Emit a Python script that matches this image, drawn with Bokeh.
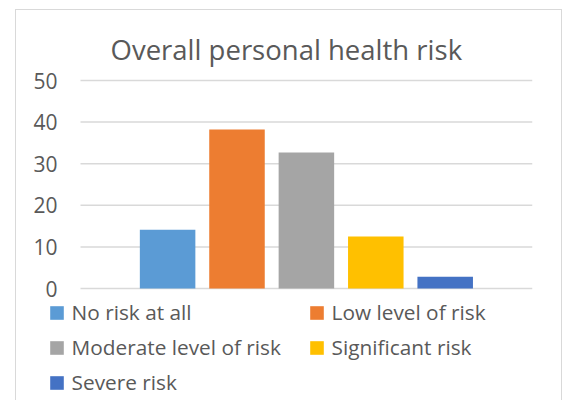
from bokeh.plotting import figure
from bokeh.models import Range1d, Legend, LegendItem
from bokeh.embed import file_html
from bokeh.resources import INLINE

# ---- data ----
categories = ["No risk at all", "Low level of risk", "Moderate level of risk",
              "Significant risk", "Severe risk"]
values = [14.1, 38.2, 32.7, 12.5, 2.8]
colors = ["#5B9BD5", "#ED7D31", "#A5A5A5", "#FFC000", "#4472C4"]
title_text = "Overall personal health risk"
y_ticks = [0, 10, 20, 30, 40, 50]

FONT = "Open Sans"
TEXT = "#595959"
BORDER = "1px solid #d9d9d9"

# category slots on a numeric axis (one slot per category)
positions = list(range(len(categories)))
X_START, X_END = -1.7305, 5.258      # view window (legend area sits left of the bars)
GRID_X0 = -1.255                      # where the horizontal gridlines begin
Y_START, Y_END = -26.923, 50.481      # room below 0 for the legend

p = figure(
    frame_width=485, frame_height=322,
    x_range=Range1d(X_START, X_END),
    y_range=Range1d(Y_START, Y_END),
    x_axis_location=None,
    output_backend="svg", toolbar_location=None,
    min_border_left=31, min_border_right=29, min_border_top=68, min_border_bottom=0,
)
p.margin = (9, 0, 0, 15)
p.styles = {"border-top": BORDER, "border-left": BORDER, "border-right": BORDER}
p.outline_line_color = None
p.xgrid.visible = False
p.ygrid.visible = False

# horizontal gridlines at the y ticks
p.segment(x0=[GRID_X0] * len(y_ticks), x1=[X_END] * len(y_ticks),
          y0=y_ticks, y1=y_ticks, line_color="#D9D9D9", line_width=1.5)

items = []
for pos, cat, val, col in zip(positions, categories, values, colors):
    r = p.vbar(x=[pos], top=[val], width=0.8, fill_color=col, line_color=None)
    items.append(LegendItem(label=cat, renderers=[r]))

# title
p.title.text = title_text
p.title.text_font = FONT
p.title.text_font_size = "27.5px"
p.title.text_font_style = "normal"
p.title.text_color = TEXT
p.title.align = "left"
p.title.offset = 63
p.title.standoff = 22

# y axis
yax = p.yaxis[0]
yax.ticker = y_ticks
yax.axis_line_color = None
yax.major_tick_line_color = None
yax.minor_tick_line_color = None
yax.major_tick_out = 0
yax.major_tick_in = 0
yax.major_label_standoff = -10
yax.major_label_text_font = FONT
yax.major_label_text_font_size = "21px"
yax.major_label_text_color = TEXT

# legend
legend = Legend(
    items=items,
    location=(0.6, 4),
    orientation="horizontal", ncols=2,
    glyph_width=17, glyph_height=17, label_standoff=7, label_width=229,
    spacing=7, padding=0, margin=0,
    label_text_font=FONT, label_text_font_size="20.8px", label_text_color=TEXT,
    border_line_color=None, background_fill_alpha=0,
)
p.add_layout(legend, "center")

open("out.html", "w").write(file_html(p, INLINE))
